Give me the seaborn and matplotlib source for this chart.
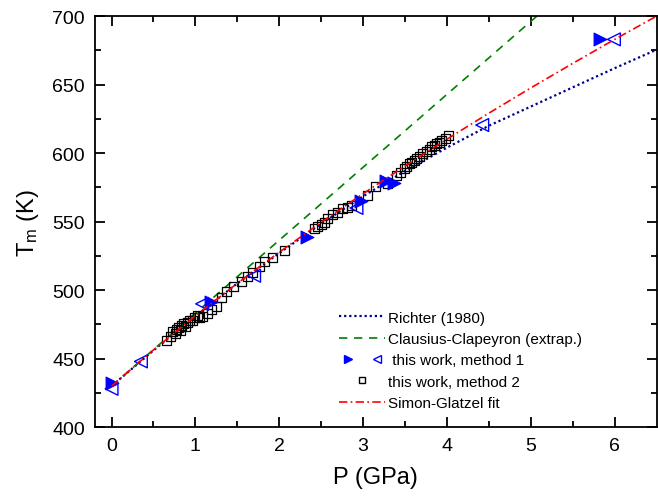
import numpy as np
import pandas as pd
import matplotlib
matplotlib.use("Agg")
import matplotlib.pyplot as plt
from matplotlib.legend_handler import HandlerTuple
from matplotlib.lines import Line2D
import seaborn as sns

# ---------------- data ----------------
# Simon-Glatzel fit (red dash-dot)
sg_P = [0.0, 0.5, 1.0, 1.5, 2.0, 2.5, 3.0, 3.5, 4.0, 4.5, 5.0, 5.5, 6.0, 6.5]
sg_T = [430.0, 456.4, 481.3, 505.0, 527.7, 549.5, 570.4, 590.6, 610.2, 629.2, 647.6, 665.5, 683.0, 700.0]

# Richter (1980) (navy dotted)
ri_P = [0.0, 0.5, 1.0, 1.5, 2.0, 2.5, 3.0, 3.5, 4.0, 4.5, 5.0, 5.5, 6.0, 6.5]
ri_T = [430.0, 456.0, 481.0, 505.0, 527.0, 548.5, 568.5, 587.0, 604.0, 620.0, 634.0, 648.0, 662.0, 675.5]

# Clausius-Clapeyron (extrap.) (green dashed, straight)
cc_P = [0.0, 6.5]
cc_T = [430.0, 776.0]

# this work, method 1: filled right triangles
m1f_P = [0.0, 1.19, 2.33, 2.98, 3.27, 3.37, 5.83]
m1f_T = [432.0, 491.0, 539.0, 565.0, 580.0, 578.5, 683.0]
# this work, method 1: open left triangles
m1o_P = [0.0, 0.35, 1.08, 1.70, 2.92, 4.42, 5.99]
m1o_T = [428.0, 448.0, 490.0, 510.5, 560.0, 620.5, 683.0]

# this work, method 2: open squares
m2_P = [0.65, 0.70, 0.73, 0.76, 0.78, 0.80, 0.82, 0.84, 0.86, 0.88, 0.90, 0.93,
        0.96, 0.99, 1.02, 1.05, 1.08, 1.14, 1.19, 1.25, 1.31, 1.37, 1.46, 1.55,
        1.62, 1.68, 1.76, 1.82, 1.92, 2.06, 2.42, 2.46, 2.50, 2.54, 2.58, 2.63,
        2.70, 2.75, 2.81, 2.86, 3.05, 3.15, 3.29, 3.40, 3.45, 3.49, 3.52, 3.55,
        3.58, 3.61, 3.64, 3.67, 3.71, 3.75, 3.79, 3.82, 3.85, 3.88, 3.91, 3.94,
        3.98, 4.02]
m2_T = [463.5, 466.0, 469.5, 468.5, 471.0, 472.5, 470.5, 474.0, 475.5, 473.5, 476.5, 478.0,
        477.5, 480.0, 481.5, 480.0, 480.5, 482.7, 486.0, 488.0, 495.0, 499.0, 503.0, 506.0,
        510.0, 513.0, 517.0, 520.7, 524.0, 528.8, 545.0, 546.5, 548.0, 549.5, 552.0, 555.0,
        557.0, 559.5, 560.5, 561.7, 569.0, 575.6, 577.8, 583.6, 586.0, 588.8, 590.0, 592.4,
        593.0, 594.6, 596.0, 597.6, 599.5, 601.2, 603.0, 605.0, 605.5, 607.0, 608.0, 609.0,
        611.0, 612.5]

# ---------------- style ----------------
sns.set_style("ticks")
plt.rcParams["font.family"] = ["Liberation Sans", "DejaVu Sans"]
plt.rcParams["mathtext.fontset"] = "custom"
plt.rcParams["mathtext.rm"] = "Liberation Sans"
plt.rcParams["mathtext.it"] = "Liberation Sans:italic"
plt.rcParams["xtick.direction"] = "in"
plt.rcParams["ytick.direction"] = "in"
for k in ["text.color", "axes.labelcolor", "xtick.color", "ytick.color", "axes.edgecolor"]:
    plt.rcParams[k] = "black"

fig = plt.figure(figsize=(6.58, 5.02), dpi=100)
ax = fig.add_axes([0.144, 0.147, 0.854, 0.819])

df_sg = pd.DataFrame({"P": sg_P, "T": sg_T})
df_ri = pd.DataFrame({"P": ri_P, "T": ri_T})
df_cc = pd.DataFrame({"P": cc_P, "T": cc_T})

sns.lineplot(data=df_ri, x="P", y="T", ax=ax, color="#00008B", lw=1.6,
             linestyle=(0, (1, 1.3)), estimator=None, sort=False, zorder=2)
sns.lineplot(data=df_cc, x="P", y="T", ax=ax, color="#008000", lw=1.2,
             linestyle=(0, (5, 4)), estimator=None, sort=False, zorder=2)

sns.scatterplot(x=m2_P, y=m2_T, ax=ax, marker="s", s=42, facecolors="none",
                edgecolor="black", linewidth=0.9, zorder=3)
sns.scatterplot(x=m1f_P, y=m1f_T, ax=ax, marker=">", s=85, color="#0000FF",
                edgecolor="#0000FF", linewidth=0.8, zorder=4)
sns.scatterplot(x=m1o_P, y=m1o_T, ax=ax, marker="<", s=85, facecolors="none",
                edgecolor="#0000FF", linewidth=1.0, zorder=4)

sns.lineplot(data=df_sg, x="P", y="T", ax=ax, color="#FF0000", lw=1.2,
             linestyle=(0, (5, 2, 1, 2)), estimator=None, sort=False, zorder=5)

ax.set_xlim(-0.2, 6.5)
ax.set_ylim(400, 700)
ax.set_xticks([0, 1, 2, 3, 4, 5, 6])
ax.set_xticks(np.arange(0.5, 6.5, 1.0), minor=True)
ax.set_yticks([400, 450, 500, 550, 600, 650, 700])
ax.set_yticks(np.arange(425, 700, 50), minor=True)
ax.tick_params(which="both", top=True, right=True, direction="in", width=1.3,
               colors="black")
ax.tick_params(which="major", length=7, labelsize=14, pad=7)
ax.tick_params(which="minor", length=4)
for sp in ax.spines.values():
    sp.set_linewidth(1.3)
    sp.set_visible(True)
    sp.set_color("black")

ax.set_xlabel("P (GPa)", fontsize=17, labelpad=9, color="black")
ax.set_ylabel(r"T$_{\mathrm{m}}$ (K)", fontsize=17, labelpad=8, color="black")

h_ri = Line2D([], [], color="#00008B", lw=1.6, linestyle=(0, (1, 1.3)))
h_cc = Line2D([], [], color="#008000", lw=1.2, linestyle=(0, (5, 4)))
h_f = Line2D([], [], marker=">", color="#0000FF", ls="none", markersize=6)
h_o = Line2D([], [], marker="<", markerfacecolor="none", markeredgecolor="#0000FF",
             ls="none", markersize=6)
h_sq = Line2D([], [], marker="s", markerfacecolor="none", markeredgecolor="black",
              ls="none", markersize=5)
h_sg = Line2D([], [], color="#FF0000", lw=1.2, linestyle=(0, (5, 2, 1, 2)))
leg = ax.legend([h_ri, h_cc, (h_f, h_o), h_sq, h_sg],
                ["Richter (1980)", "Clausius-Clapeyron (extrap.)", " this work, method 1",
                 "this work, method 2", "Simon-Glatzel fit"],
                handler_map={tuple: HandlerTuple(ndivide=None, pad=0.8)},
                loc="upper left", bbox_to_anchor=(0.424, 0.298), frameon=False,
                fontsize=11, handlelength=3.0, handletextpad=0.2, labelspacing=0.48,
                borderaxespad=0)
for t in leg.get_texts():
    t.set_color("black")

fig.savefig("out.png", dpi=100)
